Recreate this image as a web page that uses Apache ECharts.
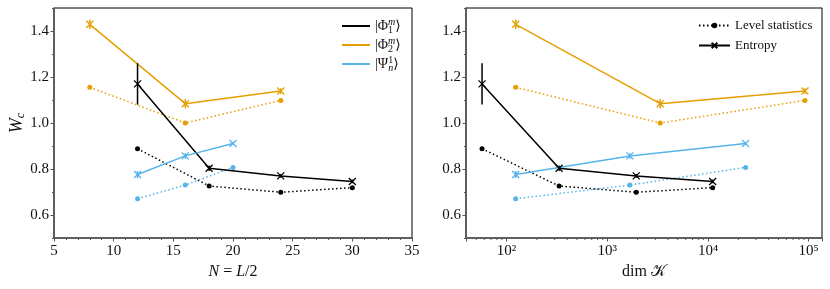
<!DOCTYPE html>
<html><head><meta charset="utf-8">
<script src="https://cdn.jsdelivr.net/npm/echarts@6/dist/echarts.min.js"></script>
<style>html,body{margin:0;padding:0;background:#fff}#c{width:830px;height:289px}</style>
</head><body><div id="c"></div>
<script>
// ---- data ----
const nPhi1 = [12, 18, 24, 30];
const dimPhi1 = [57, 332, 1937, 11120];
const entPhi1 = [1.170, 0.803, 0.770, 0.746];
const errPhi1 = [0.09, 0.012, 0.008, 0.008];
const lvlPhi1 = [0.888, 0.726, 0.699, 0.719];

const nPhi2 = [8, 16, 24];
const dimPhi2 = [123, 3350, 91800];
const entPhi2 = [1.429, 1.084, 1.139];
const errPhi2 = [0.02, 0.02, 0.012];
const lvlPhi2 = [1.155, 1.000, 1.098];

const nPsi = [12, 16, 20];
const dimPsi = [123, 1675, 23600];
const entPsi = [0.776, 0.857, 0.911];
const errPsi = [0.015, 0.012, 0.005];
const lvlPsi = [0.671, 0.730, 0.807];

const yMajorTicks = [0.6, 0.8, 1.0, 1.2, 1.4];
const xLeftTicks = [5, 10, 15, 20, 25, 30, 35];
const xRightDecades = [2, 3, 4, 5];
const legendNamesLeft = ['Φ1', 'Φ2', 'Ψ'];
const legendNamesRight = ['Level statistics', 'Entropy'];

// ---- style ----
const FONT = "'Liberation Serif', 'DejaVu Serif', serif";
const C1 = '#000000', C2 = '#E69F00', C3 = '#56B4E9';
const AX = '#555';
const TXT = '#111';
const XMARK = 'path://M0,0L10,10M10,0L0,10';
const SUP = {2:'²',3:'³',4:'⁴',5:'⁵'};

function entSeries(name, xs, ys, color, xi, yi) {
  return { name, type: 'line', xAxisIndex: xi, yAxisIndex: yi,
    data: xs.map((x, i) => [x, ys[i]]), symbol: XMARK, symbolSize: 7,
    lineStyle: { color, width: 1.5 },
    itemStyle: { color, borderColor: color, borderWidth: 1.3 }, z: 3, silent: true };
}
function lvlSeries(name, xs, ys, color, xi, yi) {
  return { name, type: 'line', xAxisIndex: xi, yAxisIndex: yi,
    data: xs.map((x, i) => [x, ys[i]]), symbol: 'circle', symbolSize: 5,
    lineStyle: { color, width: 1.5, type: [1.5, 2.5] },
    itemStyle: { color, borderWidth: 0 }, z: 2, silent: true };
}
function errSeries(xs, ys, es, color, xi, yi) {
  return { type: 'custom', xAxisIndex: xi, yAxisIndex: yi, z: 4, silent: true,
    data: xs.map((x, i) => [x, ys[i] - es[i], ys[i] + es[i]]),
    encode: { x: 0, y: [1, 2] },
    renderItem: (params, api) => {
      const p1 = api.coord([api.value(0), api.value(1)]);
      const p2 = api.coord([api.value(0), api.value(2)]);
      return { type: 'line', shape: { x1: p1[0], y1: p1[1], x2: p2[0], y2: p2[1] },
        style: { stroke: color, lineWidth: 1.5 } };
    } };
}

function yAxes(g, withName) {
  const base = { gridIndex: g, type: 'value', position: 'left', min: 0.5, max: 1.5, interval: 0.1, splitLine: { show: false } };
  const main = Object.assign({}, base, {
    axisLine: { show: true, lineStyle: { color: AX, width: 1.5 } },
    axisTick: { show: true, customValues: yMajorTicks, length: 3.5, lineStyle: { color: AX } },
    axisLabel: { customValues: yMajorTicks, margin: 5, color: TXT, fontFamily: FONT, fontSize: 15,
      formatter: v => yMajorTicks.some(t => Math.abs(t - v) < 1e-6) ? Number(v).toFixed(1) : '' }
  });
  if (withName) {
    Object.assign(main, { name: '{w|W}{c|c}', nameLocation: 'middle', nameGap: 26, nameRotate: 90,
      nameTextStyle: { rich: { w: { fontFamily: FONT, fontStyle: 'italic', fontSize: 18, color: TXT },
        c: { fontFamily: FONT, fontStyle: 'italic', fontSize: 12, color: TXT, verticalAlign: 'bottom', padding: [6, 0, 0, 0] } } } });
  }
  const minor = Object.assign({}, base, {
    axisLine: { show: false }, axisLabel: { show: false },
    axisTick: { show: true, length: 2, lineStyle: { color: AX } }
  });
  return [main, minor];
}

const chart = echarts.init(document.getElementById('c'));
const option = {
  animation: false,
  grid: [
    { left: 54, top: 8, width: 358, height: 230, show: true, borderColor: '#000', borderWidth: 1 },
    { left: 466, top: 8, width: 356, height: 230, show: true, borderColor: '#000', borderWidth: 1 }
  ],
  xAxis: [
    { gridIndex: 0, type: 'value', position: 'bottom', min: xLeftTicks[0], max: xLeftTicks[xLeftTicks.length - 1], interval: 5,
      splitLine: { show: false },
      axisLine: { show: true, lineStyle: { color: AX, width: 1.5 } },
      axisTick: { show: true, length: 3.5, lineStyle: { color: AX } },
      minorTick: { show: true, splitNumber: 5, length: 2, lineStyle: { color: AX } },
      axisLabel: { margin: 6, color: TXT, fontFamily: FONT, fontSize: 15 },
      name: '{i|N} = {i|L}/2', nameLocation: 'middle', nameGap: 26,
      nameTextStyle: { color: TXT, fontFamily: FONT, fontSize: 16,
        rich: { i: { fontFamily: FONT, fontStyle: 'italic', fontSize: 16, color: TXT } } } },
    { gridIndex: 1, type: 'log', position: 'bottom', logBase: 10, min: 39.5, max: 135500,
      splitLine: { show: false },
      axisLine: { show: true, lineStyle: { color: AX, width: 1.5 } },
      axisTick: { show: true, length: 3.5, lineStyle: { color: AX } },
      axisLabel: { margin: 6, color: TXT, fontFamily: FONT, fontSize: 15,
        formatter: v => { const l = Math.log10(v); const e = Math.round(l);
          return (Math.abs(l - e) < 1e-6 && xRightDecades.includes(e)) ? '10' + SUP[e] : ''; } },
      name: 'dim 𝒦', nameLocation: 'middle', nameGap: 26,
      nameTextStyle: { color: TXT, fontFamily: FONT, fontSize: 16 } }
  ],
  yAxis: [...yAxes(0, true), ...yAxes(1, false)],
  legend: [
    { left: 337, top: 12, orient: 'vertical', itemWidth: 28, itemHeight: 2, itemGap: 1,
      selectedMode: false,
      data: legendNamesLeft.map(n => ({ name: n, icon: 'rect', itemStyle: { borderWidth: 0 } })),
      formatter: n => ({
        'Φ1': '{t||Φ}{sb|1}{sp|m}{t|⟩}',
        'Φ2': '{t||Φ}{sb|2}{sp|m}{t|⟩}',
        'Ψ': '{t||Ψ}{sbi|n}{sp2|1}{t|⟩}'
      })[n],
      textStyle: { fontFamily: FONT, fontSize: 14, color: TXT, rich: {
        t: { fontFamily: FONT, fontSize: 14, color: TXT, lineHeight: 18 },
        sb: { fontFamily: FONT, fontSize: 10, color: TXT, verticalAlign: 'bottom' },
        sbi: { fontFamily: FONT, fontSize: 10, fontStyle: 'italic', color: TXT, verticalAlign: 'bottom' },
        sp: { fontFamily: FONT, fontSize: 10, fontStyle: 'italic', color: TXT, verticalAlign: 'top', padding: [0, 0, 0, -5] },
        sp2: { fontFamily: FONT, fontSize: 10, color: TXT, verticalAlign: 'top', padding: [0, 0, 0, -5] }
      } } },
    { left: 693, top: 14, orient: 'vertical', itemWidth: 31, itemHeight: 7, itemGap: 7,
      selectedMode: false,
      data: legendNamesRight,
      textStyle: { fontFamily: FONT, fontSize: 13, color: TXT } }
  ],
  series: [
    entSeries('Φ1', nPhi1, entPhi1, C1, 0, 0),
    entSeries('Φ2', nPhi2, entPhi2, C2, 0, 0),
    entSeries('Ψ', nPsi, entPsi, C3, 0, 0),
    lvlSeries('Φ1', nPhi1, lvlPhi1, C1, 0, 0),
    lvlSeries('Φ2', nPhi2, lvlPhi2, C2, 0, 0),
    lvlSeries('Ψ', nPsi, lvlPsi, C3, 0, 0),
    errSeries(nPhi1, entPhi1, errPhi1, C1, 0, 0),
    errSeries(nPhi2, entPhi2, errPhi2, C2, 0, 0),
    errSeries(nPsi, entPsi, errPsi, C3, 0, 0),
    entSeries('rΦ1', dimPhi1, entPhi1, C1, 1, 2),
    entSeries('rΦ2', dimPhi2, entPhi2, C2, 1, 2),
    entSeries('rΨ', dimPsi, entPsi, C3, 1, 2),
    lvlSeries('lΦ1', dimPhi1, lvlPhi1, C1, 1, 2),
    lvlSeries('lΦ2', dimPhi2, lvlPhi2, C2, 1, 2),
    lvlSeries('lΨ', dimPsi, lvlPsi, C3, 1, 2),
    errSeries(dimPhi1, entPhi1, errPhi1, C1, 1, 2),
    errSeries(dimPhi2, entPhi2, errPhi2, C2, 1, 2),
    errSeries(dimPsi, entPsi, errPsi, C3, 1, 2),
    lvlSeries('Level statistics', [], [], C1, 1, 2),
    entSeries('Entropy', [], [], C1, 1, 2)
  ]
};
chart.setOption(option);

// log-axis minor ticks (2..9 x 10^k) positioned through the axis scale
const minorVals = [];
for (let k = 1; k <= 5; k++) for (let m = 2; m <= 9; m++) {
  const v = m * Math.pow(10, k);
  if (v > 39.5 && v < 135500) minorVals.push(v);
}
const yBottom = chart.convertToPixel({ yAxisIndex: 2 }, 0.5);
chart.setOption({ graphic: minorVals.map(v => {
  const x = chart.convertToPixel({ xAxisIndex: 1 }, v);
  return { type: 'line', silent: true, shape: { x1: x, y1: yBottom, x2: x, y2: yBottom + 2 },
    style: { stroke: AX, lineWidth: 1 } };
}) });
</script></body></html>
